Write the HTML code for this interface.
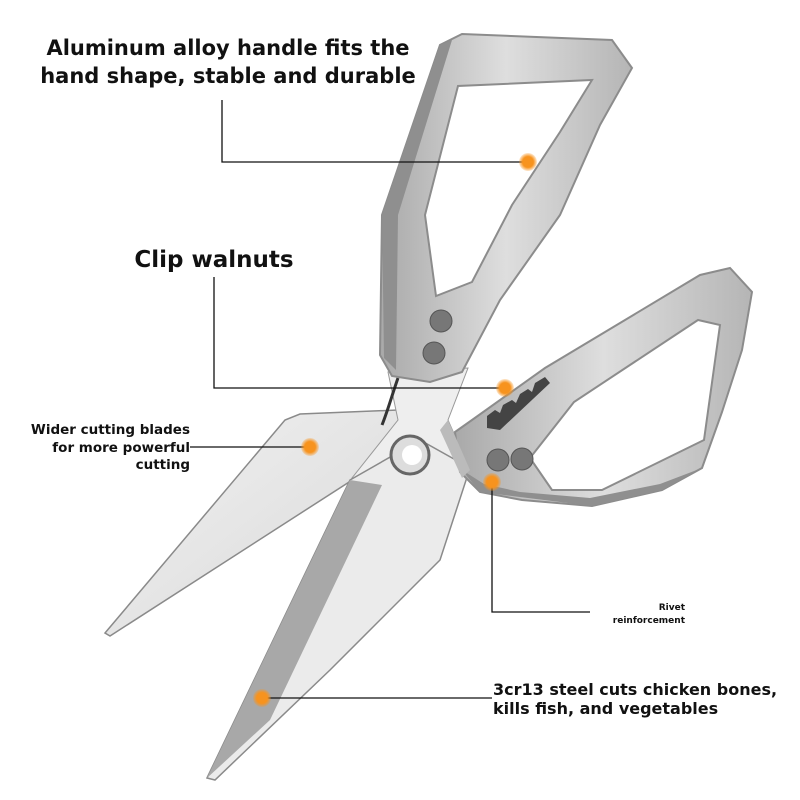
<!DOCTYPE html>
<html><head><meta charset="utf-8"><style>
html,body{margin:0;padding:0;background:#fff}
svg{display:block}
text{font-family:"DejaVu Sans","Liberation Sans",sans-serif;font-weight:bold;fill:#111}
</style></head><body>
<svg width="800" height="800" viewBox="0 0 800 800" xmlns="http://www.w3.org/2000/svg">
<defs>
<linearGradient id="bl" x1="0" y1="0" x2="1" y2="1"><stop offset="0" stop-color="#f2f2f2"/><stop offset="1" stop-color="#d8d8d8"/></linearGradient>
<linearGradient id="hd" x1="0" y1="0" x2="1" y2="0"><stop offset="0" stop-color="#a9a9a9"/><stop offset="0.5" stop-color="#dedede"/><stop offset="1" stop-color="#b5b5b5"/></linearGradient>
<radialGradient id="dot"><stop offset="0.6" stop-color="#f7931e"/><stop offset="1" stop-color="#f7931e" stop-opacity="0.2"/></radialGradient>
</defs>
<!-- left blade -->
<polygon points="105,633 285,420 300,414 398,410 402,425 360,475 110,636" fill="url(#bl)" stroke="#8a8a8a" stroke-width="1.5"/>
<!-- neck around pivot -->
<polygon points="388,372 468,368 448,420 470,470 445,490 380,485 352,478 398,420" fill="#eeeeee" stroke="#999" stroke-width="1"/>
<path d="M398,378 C392,395 388,410 382,425" stroke="#333" stroke-width="3" fill="none"/>
<!-- lower/right blade -->
<polygon points="207,778 350,480 420,440 470,468 440,560 330,670 215,780" fill="#ebebeb" stroke="#8a8a8a" stroke-width="1.5"/>
<polygon points="207,778 350,480 382,485 270,720" fill="#a8a8a8"/>
<!-- upper handle -->
<path fill-rule="evenodd" d="M382,215 L440,45 L462,34 L612,40 L632,68 L600,125 L560,215 L500,300 L462,372 L430,382 L392,376 L380,355 Z M425,215 L458,86 L592,80 L560,132 L512,205 L472,282 L436,296 Z" fill="url(#hd)" stroke="#8c8c8c" stroke-width="2"/>
<path d="M382,215 L440,45 L452,40 L398,215 L396,370 L384,358 Z" fill="#8f8f8f"/>
<!-- lower handle -->
<path fill-rule="evenodd" d="M455,432 L472,420 L545,368 L700,275 L730,268 L752,292 L742,350 L722,412 L702,468 L662,490 L592,506 L522,500 L480,492 L460,472 Z M530,458 L574,402 L698,320 L720,325 L704,440 L602,490 L552,490 Z" fill="url(#hd)" stroke="#8c8c8c" stroke-width="2"/>
<path d="M462,470 L480,492 L592,506 L662,490 L702,468 L660,484 L590,498 L520,492 L484,484 Z" fill="#8f8f8f"/>
<polygon points="448,420 470,470 462,478 440,430" fill="#bbb"/>
<!-- walnut teeth -->
<polygon points="487,416 495,410 500,413 503,405 512,400 516,403 520,394 528,389 532,392 535,383 545,377 550,383 500,430 487,428" fill="#444"/>
<!-- pivot -->
<circle cx="410" cy="455" r="19" fill="#ddd" stroke="#666" stroke-width="3"/>
<circle cx="412" cy="455" r="10" fill="#fff"/>
<!-- rivets -->
<g fill="#777" stroke="#555"><circle cx="441" cy="321" r="11"/><circle cx="434" cy="353" r="11"/><circle cx="498" cy="460" r="11"/><circle cx="522" cy="459" r="11"/></g>
<!-- connectors -->
<g stroke="#111" stroke-width="1.3" fill="none">
<polyline points="222,100 222,162 528,162"/>
<polyline points="214,277 214,388 505,388"/>
<line x1="190" y1="447" x2="310" y2="447"/>
<polyline points="492,482 492,612 590,612"/>
<line x1="262" y1="698" x2="492" y2="698"/>
</g>
<g fill="url(#dot)"><circle cx="528" cy="162" r="9"/><circle cx="505" cy="388" r="9"/><circle cx="310" cy="447" r="9"/><circle cx="492" cy="482" r="9"/><circle cx="262" cy="698" r="9"/></g>
<!-- labels -->
<text x="228" y="55" font-size="21" text-anchor="middle">Aluminum alloy handle fits the</text>
<text x="228" y="83" font-size="21" text-anchor="middle">hand shape, stable and durable</text>
<text x="214" y="267" font-size="23" text-anchor="middle">Clip walnuts</text>
<text x="190" y="434" font-size="13.5" text-anchor="end">Wider cutting blades</text>
<text x="190" y="452" font-size="13.5" text-anchor="end">for more powerful</text>
<text x="190" y="469" font-size="13.5" text-anchor="end">cutting</text>
<text x="685" y="610" font-size="9" text-anchor="end">Rivet</text>
<text x="685" y="623" font-size="9" text-anchor="end">reinforcement</text>
<text x="493" y="695" font-size="16">3cr13 steel cuts chicken bones,</text>
<text x="493" y="714" font-size="16">kills fish, and vegetables</text>
</svg>
</body></html>
